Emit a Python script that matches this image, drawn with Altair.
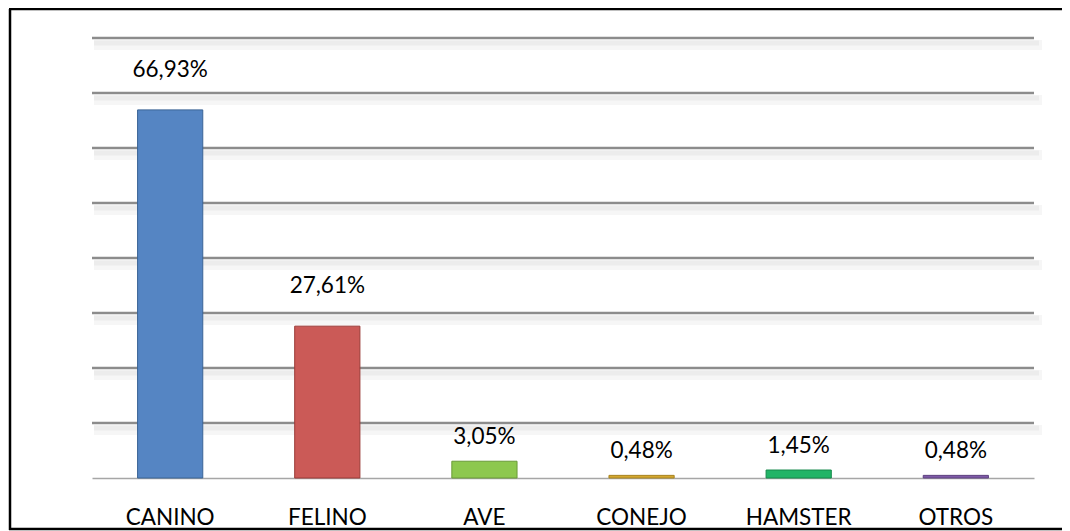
import altair as alt
import pandas as pd

categories = ["CANINO", "FELINO", "AVE", "CONEJO", "HAMSTER", "OTROS"]
values = [66.93, 27.61, 3.05, 0.48, 1.45, 0.48]
colors = ["#5585C3", "#CB5A57", "#8DC84E", "#D4A830", "#22B467", "#7F5BA8"]
edges = ["#3A6496", "#9A3B38", "#6A9A38", "#A88420", "#168A4C", "#5E4280"]
grid_ticks = [10, 20, 30, 40, 50, 60, 70, 80]

df = pd.DataFrame({
    "cat": categories,
    "val": values,
    "color": colors,
    "edge": edges,
    "label": [f"{v:.2f}".replace(".", ",") + "%" for v in values],
})
gdf = pd.DataFrame({"t": grid_ticks})

FONT = "Lato"
FS = 22.5
W, H = 942, 440

xscale = alt.Scale(domain=categories, paddingInner=0.585, paddingOuter=0.29)
yscale = alt.Scale(domain=[0, 80], nice=False)

one = pd.DataFrame({"a": [0]})
frame_left = alt.Chart(one).mark_rule(color="#000000", strokeWidth=2.5).encode(
    x=alt.value(-82), y=alt.value(-29), y2=alt.value(492))
frame_top = alt.Chart(one).mark_rule(color="#000000", strokeWidth=2.5).encode(
    y=alt.value(-29), x=alt.value(-83), x2=alt.value(1000))
frame_bottom = alt.Chart(one).mark_rule(color="#000000", strokeWidth=2.5).encode(
    y=alt.value(491), x=alt.value(-83), x2=alt.value(1000))

shadow1 = alt.Chart(gdf).mark_rule(
    color="#000000", opacity=0.035, strokeWidth=10, yOffset=7
).encode(
    y=alt.Y("t:Q", scale=yscale, axis=None),
    x=alt.value(2), x2=alt.value(W + 8),
)
shadow2 = alt.Chart(gdf).mark_rule(
    color="#000000", opacity=0.04, strokeWidth=5, yOffset=5
).encode(
    y=alt.Y("t:Q", scale=yscale, axis=None),
    x=alt.value(2), x2=alt.value(W + 5),
)

grid = alt.Chart(gdf).mark_rule(color="#8C8C8C", strokeWidth=2.5).encode(
    y=alt.Y("t:Q", scale=yscale, axis=None),
    x=alt.value(0), x2=alt.value(W),
)

bars = alt.Chart(df).mark_bar(strokeWidth=1).encode(
    x=alt.X("cat:N", scale=xscale, sort=categories, title=None,
            axis=alt.Axis(labelAngle=0, ticks=False, tickSize=0, labelPadding=28,
                          labelFont=FONT, labelFontSize=FS, labelColor="#000000",
                          domainColor="#A6A6A6", domainWidth=1.5, grid=False)),
    y=alt.Y("val:Q", scale=yscale, axis=None),
    fill=alt.Fill("color:N", scale=None),
    stroke=alt.Stroke("edge:N", scale=None),
)

text_big = alt.Chart(df).transform_filter("datum.val > 10").mark_text(
    font=FONT, fontSize=FS, color="#000000", baseline="alphabetic", dy=-33
).encode(
    x=alt.X("cat:N", scale=xscale, sort=categories),
    y=alt.Y("val:Q", scale=yscale),
    text="label:N",
)
text_small = alt.Chart(df).transform_filter("datum.val <= 10").mark_text(
    font=FONT, fontSize=FS, color="#000000", baseline="alphabetic", dy=-17
).encode(
    x=alt.X("cat:N", scale=xscale, sort=categories),
    y=alt.Y("val:Q", scale=yscale),
    text="label:N",
)

chart = alt.layer(frame_left, frame_top, frame_bottom, shadow1, shadow2, grid,
                  bars, text_big, text_small).properties(
    width=W, height=H,
    autosize=alt.AutoSizeParams(type="none"),
    padding={"left": 84, "top": 30, "right": 28, "bottom": 53},
    background="#FFFFFF",
).configure_view(stroke=None)

chart.save("out.html", embed_options={"renderer": "svg", "actions": False})
